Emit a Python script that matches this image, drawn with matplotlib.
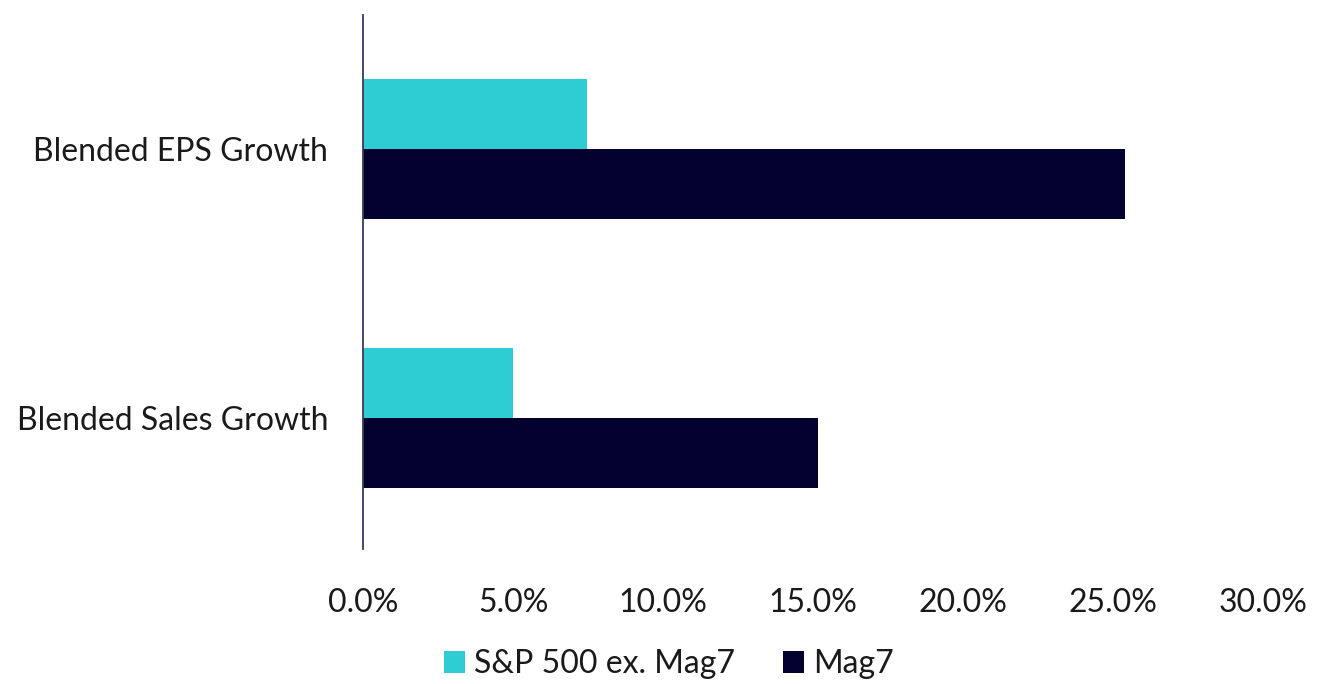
import matplotlib
matplotlib.use("Agg")
import matplotlib.pyplot as plt
import numpy as np
from matplotlib.ticker import FuncFormatter

categories = ["Blended Sales Growth", "Blended EPS Growth"]
sp500_ex_mag7 = [5.0, 7.45]
mag7 = [15.15, 25.4]
series_names = ["S&P 500 ex. Mag7", "Mag7"]
xticks = [0, 5, 10, 15, 20, 25, 30]

plt.rcParams['font.family'] = ['Lato', 'DejaVu Sans']

fig = plt.figure(figsize=(13.22, 6.84), dpi=100)
ax = fig.add_axes([363/1322, 135/684, 900/1322, 534/684])

y = np.arange(len(categories))
h = 0.26
teal = "#2ECCD3"
navy = "#03002E"
ax.barh(y + h/2, sp500_ex_mag7, height=h, color=teal, label=series_names[0])
ax.barh(y - h/2, mag7, height=h, color=navy, label=series_names[1])

ax.set_xlim(0, 30)
ax.set_ylim(-0.487, 1.498)
ax.set_xticks(xticks)
ax.xaxis.set_major_formatter(FuncFormatter(lambda v, p: f"{v:.1f}%"))
ax.set_yticks(y)
ax.set_yticklabels(categories)
ax.tick_params(axis='x', length=0, pad=28, labelsize=23, colors='#1a1a1a')
ax.tick_params(axis='y', length=0, pad=25, labelsize=23, colors='#1a1a1a')
for s in ['top', 'right', 'bottom']:
    ax.spines[s].set_visible(False)
ax.spines['left'].set_color('#3a3a5a')
ax.spines['left'].set_linewidth(1.3)

handles, labels = ax.get_legend_handles_labels()
fig.legend(handles, labels, loc='lower center', bbox_to_anchor=(0.506, -0.035), ncol=2,
           frameon=False, fontsize=23, handlelength=0.65, handleheight=0.65,
           handletextpad=0.3, columnspacing=1.5, labelcolor='#1a1a1a')

fig.savefig("out.png", dpi=100)
